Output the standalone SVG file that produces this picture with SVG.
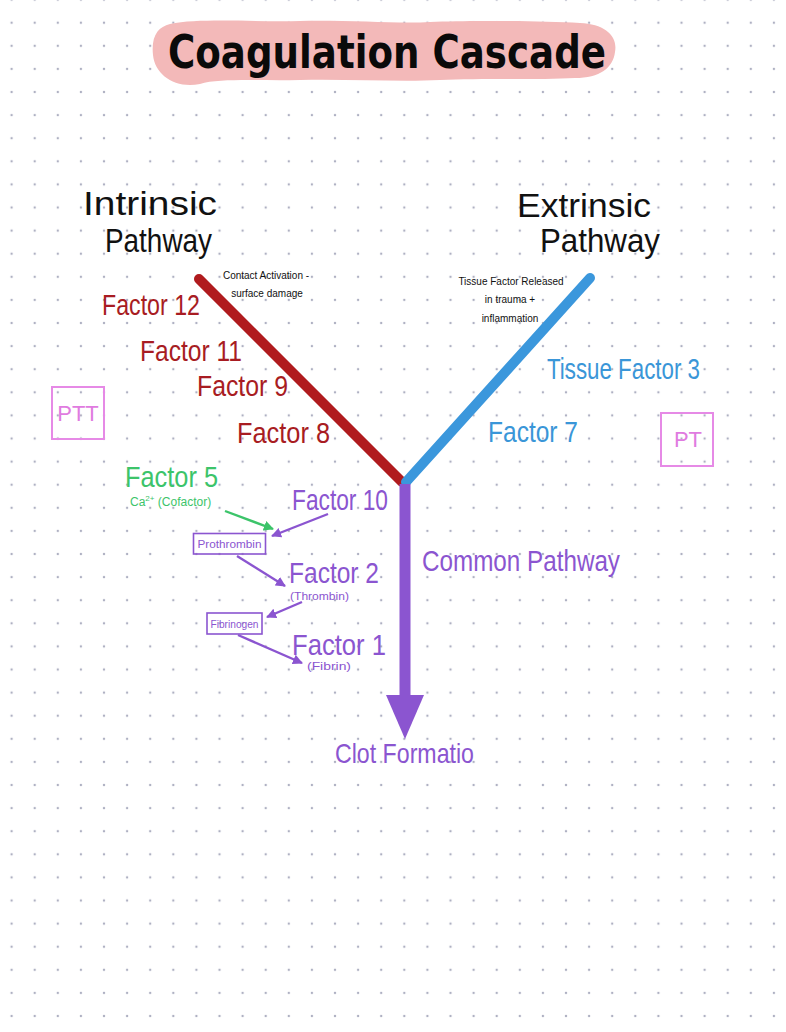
<svg xmlns="http://www.w3.org/2000/svg" width="786" height="1032" viewBox="0 0 786 1032">
<defs>
<pattern id="dots" patternUnits="userSpaceOnUse" x="0.05" y="11.15" width="23.1" height="23.1">
<circle cx="11.55" cy="11.55" r="1.2" fill="#aeb0c2"/>
</pattern>
<marker id="ahP" viewBox="0 0 10 10" refX="9" refY="5" markerWidth="4.2" markerHeight="4.2" markerUnits="strokeWidth" orient="auto"><path d="M0,0 L10,5 L0,10 Z" fill="#8b55d0"/></marker>
<marker id="ahG" viewBox="0 0 10 10" refX="9" refY="5" markerWidth="4.2" markerHeight="4.2" markerUnits="strokeWidth" orient="auto"><path d="M0,0 L10,5 L0,10 Z" fill="#3cc46a"/></marker>
</defs>
<style>
.hand{font-family:"Liberation Sans",Arial,sans-serif;}
.note{font-family:"Liberation Sans Narrow","Liberation Sans",sans-serif;font-size:10px;fill:#111;text-anchor:middle;}
.red{fill:#a81c22;font-size:30px;}
.blue{fill:#3a96d8;font-size:30px;}
.pur{fill:#8b55d0;}
.big{font-size:30px;}
.blk{fill:#111;font-size:33px;}
.box{fill:none;stroke:#8b55d0;stroke-width:1.6;}
.pbox{fill:none;stroke:#e68ae6;stroke-width:2;}
.arr{stroke-width:2.4;fill:none;}
</style>
<rect width="786" height="1032" fill="#ffffff"/>
<rect width="786" height="1032" fill="url(#dots)"/>

<g id="title">
<path d="M170,24 C200,18 250,22 300,21 C350,20 400,24 430,22 C470,20 540,21 580,23 C605,24 618,36 615,52 C613,68 600,78 575,78 C540,80 480,78 440,80 C400,82 350,79 300,80 C260,81 220,78 200,84 C175,89 155,75 153,55 C151,36 158,27 170,24 Z" fill="#f3b9b9"/>
<text x="168" y="68" font-family="DejaVu Sans,sans-serif" font-weight="bold" font-size="46" fill="#0a0a0a" textLength="438" lengthAdjust="spacingAndGlyphs">Coagulation Cascade</text>
</g>

<g id="connectors">
<line x1="199" y1="279" x2="402" y2="482" stroke="#b01b1e" stroke-width="10" stroke-linecap="round"/>
<line x1="590" y1="278" x2="406" y2="482" stroke="#3b97dc" stroke-width="10" stroke-linecap="round"/>
<line x1="405" y1="484" x2="405" y2="700" stroke="#8b55d0" stroke-width="11"/>
<path d="M386,695 L424,695 L405,739 Z" fill="#8b55d0"/>
<line class="arr" x1="225" y1="511" x2="273" y2="529" stroke="#3cc46a" marker-end="url(#ahG)"/>
<line class="arr" x1="328" y1="514" x2="272" y2="536" stroke="#8b55d0" marker-end="url(#ahP)"/>
<line class="arr" x1="237" y1="556" x2="285" y2="586" stroke="#8b55d0" marker-end="url(#ahP)"/>
<line class="arr" x1="302" y1="602" x2="267" y2="617" stroke="#8b55d0" marker-end="url(#ahP)"/>
<line class="arr" x1="238" y1="635" x2="302" y2="663" stroke="#8b55d0" marker-end="url(#ahP)"/>
</g>

<g id="intrinsic">
<text class="hand blk" x="83" y="215" textLength="134" lengthAdjust="spacingAndGlyphs">Intrinsic</text>
<text class="hand blk" x="105" y="252" textLength="107" lengthAdjust="spacingAndGlyphs">Pathway</text>
</g>
<g id="extrinsic">
<text class="hand blk" x="517" y="217" textLength="134" lengthAdjust="spacingAndGlyphs">Extrinsic</text>
<text class="hand blk" x="540" y="252" textLength="120" lengthAdjust="spacingAndGlyphs">Pathway</text>
</g>
<g id="contact-note">
<text class="note" x="266" y="279">Contact Activation -</text>
<text class="note" x="267" y="297">surface damage</text>
</g>
<g id="tissue-note">
<text class="note" x="511" y="285">Tissue Factor Released</text>
<text class="note" x="510" y="303">in trauma +</text>
<text class="note" x="510" y="322">inflammation</text>
</g>

<g id="factor12"><text class="hand red" x="102" y="315" textLength="98" lengthAdjust="spacingAndGlyphs">Factor 12</text></g>
<g id="factor11"><text class="hand red" x="140" y="361" textLength="102" lengthAdjust="spacingAndGlyphs">Factor 11</text></g>
<g id="factor9"><text class="hand red" x="197" y="396" textLength="91" lengthAdjust="spacingAndGlyphs">Factor 9</text></g>
<g id="factor8"><text class="hand red" x="237" y="443" textLength="93" lengthAdjust="spacingAndGlyphs">Factor 8</text></g>

<g id="ptt">
<rect class="pbox" x="52" y="387" width="52" height="52"/>
<text class="hand" x="78" y="421" font-size="22" fill="#e07be0" text-anchor="middle">PTT</text>
</g>
<g id="pt">
<rect class="pbox" x="661" y="413" width="52" height="53"/>
<text class="hand" x="688" y="447" font-size="22" fill="#e07be0" text-anchor="middle">PT</text>
</g>

<g id="tissue-factor3"><text class="hand blue" x="547" y="379" textLength="153" lengthAdjust="spacingAndGlyphs">Tissue Factor 3</text></g>
<g id="factor7"><text class="hand blue" x="488" y="442" textLength="90" lengthAdjust="spacingAndGlyphs">Factor 7</text></g>

<g id="factor5">
<text class="hand big" x="125" y="487" fill="#3cc46a" textLength="93" lengthAdjust="spacingAndGlyphs">Factor 5</text>
<text class="hand" x="130" y="506" font-size="12" fill="#3cc46a">Ca<tspan font-size="8" dy="-5">2+</tspan><tspan dy="5"> (Cofactor)</tspan></text>
</g>
<g id="factor10"><text class="hand pur big" x="292" y="510" textLength="96" lengthAdjust="spacingAndGlyphs">Factor 10</text></g>
<g id="prothrombin">
<rect class="box" x="193.5" y="533.5" width="72" height="20.5"/>
<text class="hand pur" x="229.5" y="548" font-size="11" text-anchor="middle" textLength="64" lengthAdjust="spacingAndGlyphs">Prothrombin</text>
</g>
<g id="factor2">
<text class="hand pur big" x="289" y="583" textLength="90" lengthAdjust="spacingAndGlyphs">Factor 2</text>
<text class="hand pur" x="290" y="600" font-size="10" textLength="59" lengthAdjust="spacingAndGlyphs">(Thrombin)</text>
</g>
<g id="fibrinogen">
<rect class="box" x="207" y="613" width="55" height="21"/>
<text class="hand pur" x="234.5" y="627.5" font-size="10" text-anchor="middle" textLength="48" lengthAdjust="spacingAndGlyphs">Fibrinogen</text>
</g>
<g id="factor1">
<text class="hand pur" x="292" y="655" font-size="29" textLength="94" lengthAdjust="spacingAndGlyphs">Factor 1</text>
<text class="hand pur" x="307" y="670" font-size="10" textLength="44" lengthAdjust="spacingAndGlyphs">(Fibrin)</text>
</g>
<g id="common-pathway"><text class="hand pur big" x="422" y="571" textLength="198" lengthAdjust="spacingAndGlyphs">Common Pathway</text></g>
<g id="clot-formation"><text class="hand pur" x="335" y="763" font-size="28" textLength="139" lengthAdjust="spacingAndGlyphs">Clot Formatio</text></g>
</svg>
